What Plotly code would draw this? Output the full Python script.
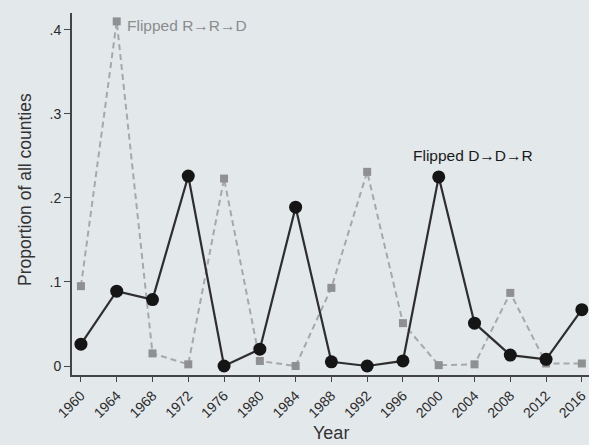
import plotly.graph_objects as go

years = [1960, 1964, 1968, 1972, 1976, 1980, 1984, 1988, 1992, 1996, 2000, 2004, 2008, 2012, 2016]
flipped_ddr = [0.026, 0.089, 0.079, 0.226, 0.0, 0.020, 0.189, 0.005, 0.0, 0.006, 0.225, 0.051, 0.013, 0.008, 0.067]
flipped_rrd = [0.095, 0.410, 0.015, 0.002, 0.223, 0.006, 0.0, 0.093, 0.231, 0.051, 0.001, 0.002, 0.087, 0.003, 0.003]
y_ticks = [0, 0.1, 0.2, 0.3, 0.4]
y_ticktext = ["0", ".1", ".2", ".3", ".4"]

bg = "#e3e8eb"
font_family = "Liberation Sans, Arial"
fig = go.Figure()
fig.add_trace(go.Scatter(
    x=years, y=flipped_rrd, mode="lines+markers",
    line=dict(color="#a6a8aa", width=2, dash="6px,4px"),
    marker=dict(symbol="square", size=8, color="#8e9092"),
    showlegend=False))
fig.add_trace(go.Scatter(
    x=years, y=flipped_ddr, mode="lines+markers",
    line=dict(color="#2e2e2e", width=2.2),
    marker=dict(symbol="circle", size=13, color="#151515"),
    showlegend=False))

fig.add_annotation(x=1964, y=0.410, text="Flipped R→R→D", showarrow=False,
                   xanchor="left", xshift=8, yshift=-4,
                   font=dict(family=font_family, size=15.5, color="#8a8c8e"))
fig.add_annotation(x=2000, y=0.250, text="Flipped D→D→R", showarrow=False,
                   xanchor="left", xshift=-28,
                   font=dict(family=font_family, size=15.5, color="#1a1a1a"))

# axis titles
fig.add_annotation(xref="paper", yref="paper", x=0.50, y=-0.160, text="Year",
                   showarrow=False, xanchor="center", yanchor="middle",
                   font=dict(family=font_family, size=18, color="#333333"))
fig.add_annotation(xref="paper", yref="paper", x=-0.091, y=0.514, text="Proportion of all counties",
                   showarrow=False, textangle=-90, xanchor="center", yanchor="middle",
                   font=dict(family=font_family, size=17.5, color="#333333"))

fig.update_layout(
    width=589, height=445,
    margin=dict(l=72, r=0, t=13, b=70),
    paper_bgcolor=bg, plot_bgcolor=bg,
    font=dict(family=font_family, size=14, color="#2a2a2a"),
    xaxis=dict(range=[1959.0, 2016.8], tickvals=years, ticktext=[str(y) for y in years],
               tickangle=-45, showgrid=False, zeroline=False,
               showline=True, linecolor="#444444", linewidth=2,
               ticks="outside", ticklen=5, tickcolor="#444444",
               tickfont=dict(size=14), ticklabeloverflow="allow"),
    yaxis=dict(range=[-0.0107, 0.42], tickvals=y_ticks, ticktext=y_ticktext,
               showgrid=False, zeroline=False,
               showline=True, linecolor="#444444", linewidth=2,
               ticks="outside", ticklen=6, tickcolor="#444444",
               tickfont=dict(size=14), ticklabeloverflow="allow"),
)

fig.write_html("out.html")
